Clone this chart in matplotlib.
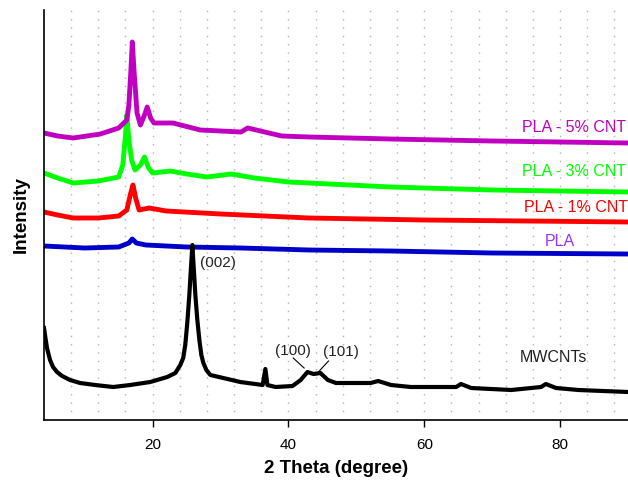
import matplotlib
matplotlib.use("Agg")
import matplotlib.pyplot as plt

plt.rcParams['font.family'] = ['Liberation Sans', 'DejaVu Sans']

# ---- data (2 theta in degrees, intensity in arbitrary units incl. offset) ----
mw_x = [4.0, 4.15, 4.44, 4.89, 5.33, 5.92, 6.66, 7.84, 9.31, 11.53, 14.18, 16.69, 19.65,
        22.15, 23.34, 24.07, 24.5, 24.8, 25.1, 25.4, 25.62, 25.85, 26.07, 26.29, 26.58,
        26.88, 27.17, 27.47, 27.91, 28.5, 32.9, 36.2, 36.6, 36.9, 38.1, 40.6, 41.8, 42.8,
        43.7, 44.7, 45.8, 47.0, 52.1, 53.2, 55.1, 58.0, 64.7, 65.4, 66.9, 72.8, 77.2,
        77.9, 79.4, 82.7, 90.0]
mw_y = [92, 85, 72, 60, 53, 48, 44, 40, 37, 35, 33, 35, 38,
        43, 47, 55, 62, 75, 97, 125, 150, 175, 150, 125, 100,
        80, 65, 57, 50, 45, 38, 35, 51, 35, 33, 34, 40, 48,
        46, 47, 40, 37, 37, 39, 35, 33, 33, 36, 32, 30, 33,
        36, 32, 30, 28]

pla_x = [4, 10, 15, 16.5, 17.0, 17.6, 19, 25, 33, 43, 55, 70, 90]
pla_y = [174, 172, 173, 177, 181, 177, 175, 173, 172, 170, 169, 167, 166]

p1_x = [4, 6, 8.3, 12, 15, 16.2, 16.7, 17.1, 17.5, 18, 19.5, 22, 30, 43, 60, 75, 90]
p1_y = [208, 205, 202, 202, 204, 210, 225, 235, 222, 210, 212, 209, 206, 202, 200, 199, 198]

p3_x = [4, 6, 8.3, 12, 15, 15.6, 16.0, 16.2, 16.5, 16.9, 17.4, 18.2, 18.8, 19.4, 20,
        22.6, 25, 28, 31.5, 35, 40, 43, 55, 70, 90]
p3_y = [247, 242, 237, 239, 243, 255, 285, 305, 280, 260, 250, 255, 263, 252, 247,
        249, 246, 243, 246, 242, 238, 237, 233, 230, 228]

p5_x = [4, 6, 8.3, 12.3, 15, 16.2, 16.5, 16.8, 17.0, 17.3, 17.7, 18.2, 18.8, 19.2, 19.7,
        20.2, 23, 27, 33, 34, 39, 43, 55, 70, 90]
p5_y = [287, 284, 282, 286, 292, 300, 315, 350, 378, 345, 307, 295, 305, 313, 302,
        297, 297, 290, 288, 292, 284, 283, 281, 279, 277]

x_ticks = [20, 40, 60, 80]
grid_x = list(range(8, 90, 4))

# ---- figure ----
fig = plt.figure(figsize=(6.28, 4.83), dpi=100)
ax = fig.add_axes([44/628, 63/483, 584/628, 410/483])

for gx in grid_x:
    ax.axvline(gx, color='#b4b4b4', lw=1.0, ls=(0, (1, 5)), zorder=0)

ax.plot(pla_x, pla_y, color='#0000c8', lw=3.5)
ax.plot(p1_x, p1_y, color='#ff0000', lw=3.5)
ax.plot(p3_x, p3_y, color='#00ff00', lw=3.5)
ax.plot(p5_x, p5_y, color='#c000c0', lw=3.5)
ax.plot(mw_x, mw_y, color='black', lw=3.0)

ax.set_xlim(4, 90)
ax.set_ylim(0, 410)
ax.set_yticks([])
ax.set_xticks(x_ticks)
ax.tick_params(axis='x', direction='out', length=5, width=1, labelsize=11, pad=8)
for s in ['top', 'right']:
    ax.spines[s].set_visible(False)
for s in ['left', 'bottom']:
    ax.spines[s].set_linewidth(1.2)

ax.set_xlabel('2 Theta (degree)', fontsize=13.5, fontweight='bold', labelpad=6)
ax.set_ylabel('Intensity', fontsize=13.5, fontweight='bold', labelpad=10)

fs = 11.5
ax.text(89.76, 293, 'PLA - 5% CNT', color='#c000c0', fontsize=fs, ha='right', va='center')
ax.text(89.76, 248, 'PLA - 3% CNT', color='#00ff00', fontsize=fs, ha='right', va='center')
ax.text(90.0, 212, 'PLA - 1% CNT', color='#ff0000', fontsize=fs, ha='right', va='center')
ax.text(79.9, 179, 'PLA', color='#9933ff', fontsize=fs, ha='center', va='center')
ax.text(79.0, 62, 'MWCNTs', color='#222222', fontsize=fs, ha='center', va='center')

fm = 11
ax.text(27.0, 157, '(002)', color='#222222', fontsize=fm, ha='left', va='center')
ax.text(40.6, 69, '(100)', color='#222222', fontsize=fm, ha='center', va='center')
ax.text(47.8, 68, '(101)', color='#222222', fontsize=fm, ha='center', va='center')
ax.plot([40.7, 42.3], [62, 52], color='black', lw=0.8)
ax.plot([45.9, 44.4], [59, 48], color='black', lw=0.8)

fig.savefig('out.png', dpi=100)
